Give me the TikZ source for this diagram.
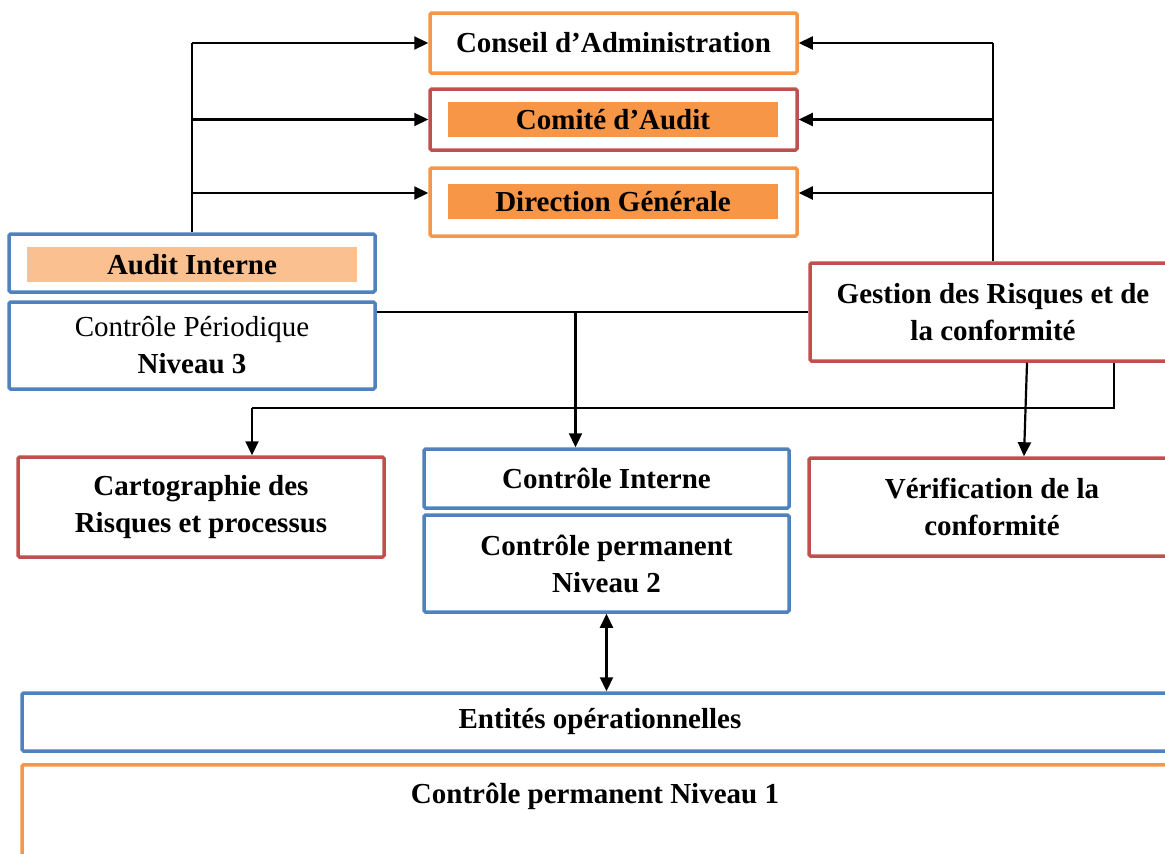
\documentclass[tikz,border=0pt]{standalone}
\usepackage{fontspec}
\setmainfont{Liberation Serif}
\usetikzlibrary{arrows.meta,calc}
\definecolor{borange}{HTML}{F79646}
\definecolor{bred}{HTML}{C0504D}
\definecolor{bblue}{HTML}{4F81BD}
\definecolor{lorange}{HTML}{FAC090}
\begin{document}
\begin{tikzpicture}[x=1pt,y=-1pt,
  box/.style={draw,line width=3.5pt,rounded corners=1.5pt,inner sep=0pt,align=center,
    font=\fontsize{29}{37}\selectfont\bfseries},
  obox/.style={box,draw=borange},
  rbox/.style={box,draw=bred},
  bbox/.style={box,draw=bblue},
  bar/.style={fill=#1,inner sep=0pt,minimum width=330pt,minimum height=35pt,
    font=\fontsize{29}{37}\selectfont\bfseries},
  conn/.style={line width=2.2pt},
  arr/.style={conn,-{Triangle[length=14pt,width=13pt]}},
  darr/.style={conn,{Triangle[length=14pt,width=13pt]}-{Triangle[length=14pt,width=13pt]}}]
\useasboundingbox (0,0) rectangle (1165,854);
\clip (0,0) rectangle (1165,854);
% top boxes
\node[obox,minimum width=367pt,minimum height=60pt] (ca) at (613.5,43) {Conseil d’Administration};
\node[rbox,minimum width=367pt,minimum height=61pt] (cma) at (613.5,119.5) {};
\node[bar=borange] (cmat) at (613,119.5) {Comité d’Audit};
\node[obox,minimum width=367pt,minimum height=68pt] (dg) at (613.5,202) {};
\node[bar=borange] (dgt) at (613,201.5) {Direction Générale};
% audit interne
\node[bbox,minimum width=366pt,minimum height=58pt] (ai) at (192,263) {};
\node[bar=lorange] (ait) at (192,264.5) {Audit Interne};
\node[bbox,minimum width=366pt,minimum height=87pt] (cp3) at (192,345.5)
  {\mdseries Contrôle Périodique\\ Niveau 3};
% gestion des risques
\node[rbox,minimum width=366pt,minimum height=98pt] (gr) at (993,312)
  {Gestion des Risques et de\\ la conformité};
% middle row
\node[rbox,minimum width=366pt,minimum height=100pt] (carto) at (201,507)
  {Cartographie des\\ Risques et processus};
\node[bbox,minimum width=365pt,minimum height=59pt] (ci) at (606.5,478.5) {Contrôle Interne};
\node[bbox,minimum width=365pt,minimum height=97pt] (cp2) at (606.5,563.5)
  {Contrôle permanent\\ Niveau 2};
\node[rbox,minimum width=366pt,minimum height=98pt] (ver) at (992,507)
  {Vérification de la\\ conformité};
% bottom
\node[bbox,minimum width=1156pt,minimum height=58pt] (ent) at (600,722) {Entités opérationnelles};
\node[obox,minimum width=1146pt,minimum height=137pt,anchor=north] (n1) at (595,763) {};
\node[font=\fontsize{29}{37}\selectfont\bfseries] (n1t) at (595,796) {Contrôle permanent Niveau 1};
% left connectors
\coordinate (lt) at (ai.north |- ca.west);
\coordinate (dgw) at ([yshift=9pt]dg.west);
\coordinate (dge) at ([yshift=9pt]dg.east);
\draw[conn] (ai.north) -- (lt);
\draw[arr] (lt) -- (ca.west);
\draw[arr] (ai.north |- cma.west) -- (cma.west);
\draw[arr] (ai.north |- dgw) -- (dgw);
% right connectors
\coordinate (rt) at (gr.north |- ca.east);
\draw[conn] (gr.north) -- (rt);
\draw[arr] (rt) -- (ca.east);
\draw[arr] (gr.north |- cma.east) -- (cma.east);
\draw[arr] (gr.north |- dge) -- (dge);
% horizontal link between periodic and gestion
\draw[conn] (cp3.east |- gr.west) -- (gr.west);
\coordinate (cij) at ([xshift=-31pt]ci.north);
\draw[arr] (cij |- gr.west) -- (cij);
% gestion to verification
\draw[arr] ([xshift=34pt]gr.south) -- ([xshift=32pt]ver.north);
% gestion to cartographie
\coordinate (gc) at ([xshift=121pt]gr.south);
\coordinate (cc) at ([xshift=51pt]carto.north);
\draw[conn] (gc) -- (gc |- 0,408) -- (cc |- 0,408);
\draw[arr] (cc |- 0,408) -- (cc);
% double arrow
\draw[darr] (cp2.south) -- (cp2.south |- ent.north);
\end{tikzpicture}
\end{document}
